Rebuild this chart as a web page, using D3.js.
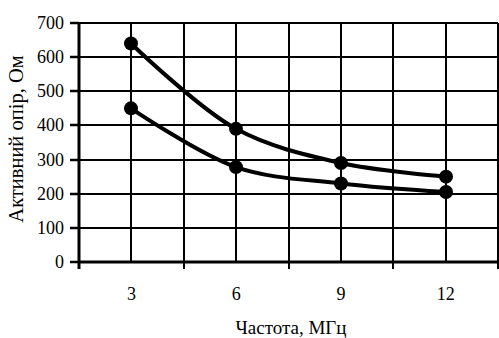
<!DOCTYPE html>
<html lang="uk">
<head>
<meta charset="UTF-8">
<title>Активний опір</title>
<script src="https://d3js.org/d3.v7.min.js"></script>
<style>
    body { margin: 0; background: #fff; }
</style>
</head>
<body>
<svg id="chart" width="499" height="338"></svg>
<script>
    // data
    const freqs = ["3", "6", "9", "12"];
    const upper = [640, 390, 290, 250];
    const lower = [450, 278, 230, 205];
    const yTicks = [0, 100, 200, 300, 400, 500, 600, 700];

    const FONT = "'Liberation Serif', 'Times New Roman', serif";
    const svg = d3.select("#chart");
    const mLeft = 79, mRight = 498, mTop = 23, mBottom = 262;

    const x = d3.scaleBand().domain(freqs).range([mLeft, mRight]).padding(0);
    const y = d3.scaleLinear().domain([0, 700]).range([mBottom, mTop]);
    const ry = d => Math.round(y(d));
    const cx = d => Math.round(x(d) + x.bandwidth() / 2);

    // horizontal grid
    svg.selectAll(".hgrid").data(yTicks.filter(d => d > 0)).enter().append("line")
        .attr("x1", mLeft).attr("x2", mRight)
        .attr("y1", ry).attr("y2", ry)
        .attr("stroke", "#000").attr("stroke-width", 2);

    // vertical grid: category boundaries (with ticks below axis) and centres
    const bounds = freqs.map(f => Math.round(x(f))).concat([mRight]);
    svg.selectAll(".vb").data(bounds.slice(1)).enter().append("line")
        .attr("x1", d => d).attr("x2", d => d)
        .attr("y1", mTop).attr("y2", mBottom + 7)
        .attr("stroke", "#000").attr("stroke-width", 2);
    svg.selectAll(".vc").data(freqs).enter().append("line")
        .attr("x1", cx).attr("x2", cx)
        .attr("y1", mTop).attr("y2", mBottom)
        .attr("stroke", "#000").attr("stroke-width", 2);

    // y axis
    const yAxis = d3.axisLeft(y).tickValues(yTicks).tickSize(9).tickPadding(6);
    const gy = svg.append("g").attr("transform", `translate(${mLeft},0)`).call(yAxis)
        .attr("font-family", FONT).attr("font-size", 18);
    gy.select(".domain").attr("stroke-width", 3).attr("d", `M0,${mTop - 1}V${mBottom + 7}`);
    gy.selectAll(".tick").attr("transform", d => `translate(0,${ry(d)})`);
    gy.selectAll(".tick line").attr("stroke-width", 2.5);
    gy.selectAll("text").style("font-family", FONT).style("font-size", "18px").attr("fill", "#000");

    // x axis
    const xAxis = d3.axisBottom(x).tickSize(0).tickPadding(25);
    const gx = svg.append("g").attr("transform", `translate(0,${mBottom})`).call(xAxis)
        .attr("font-family", FONT).attr("font-size", 18);
    gx.select(".domain").attr("stroke-width", 3).attr("d", `M${mLeft - 1},0H${mRight + 1}`);
    gx.selectAll("text").style("font-family", FONT).style("font-size", "18px").attr("fill", "#000");

    // series
    const line = d3.line()
        .x((d, i) => cx(freqs[i]))
        .y(d => y(d))
        .curve(d3.curveCatmullRom.alpha(0.5));

    [upper, lower].forEach(s => {
        svg.append("path").datum(s)
            .attr("d", line)
            .attr("fill", "none").attr("stroke", "#000").attr("stroke-width", 4);
        svg.selectAll(null).data(s).enter().append("circle")
            .attr("cx", (d, i) => cx(freqs[i]))
            .attr("cy", d => y(d))
            .attr("r", 7).attr("fill", "#000");
    });

    // titles
    svg.append("text")
        .attr("x", 291).attr("y", 334)
        .attr("text-anchor", "middle")
        .style("font-family", FONT).style("font-size", "19px")
        .text("Частота, МГц");
    svg.append("text")
        .attr("transform", "translate(23,139) rotate(-90)")
        .attr("text-anchor", "middle")
        .style("font-family", FONT).style("font-size", "20.5px")
        .text("Активний опір, Ом");
</script>
</body>
</html>
